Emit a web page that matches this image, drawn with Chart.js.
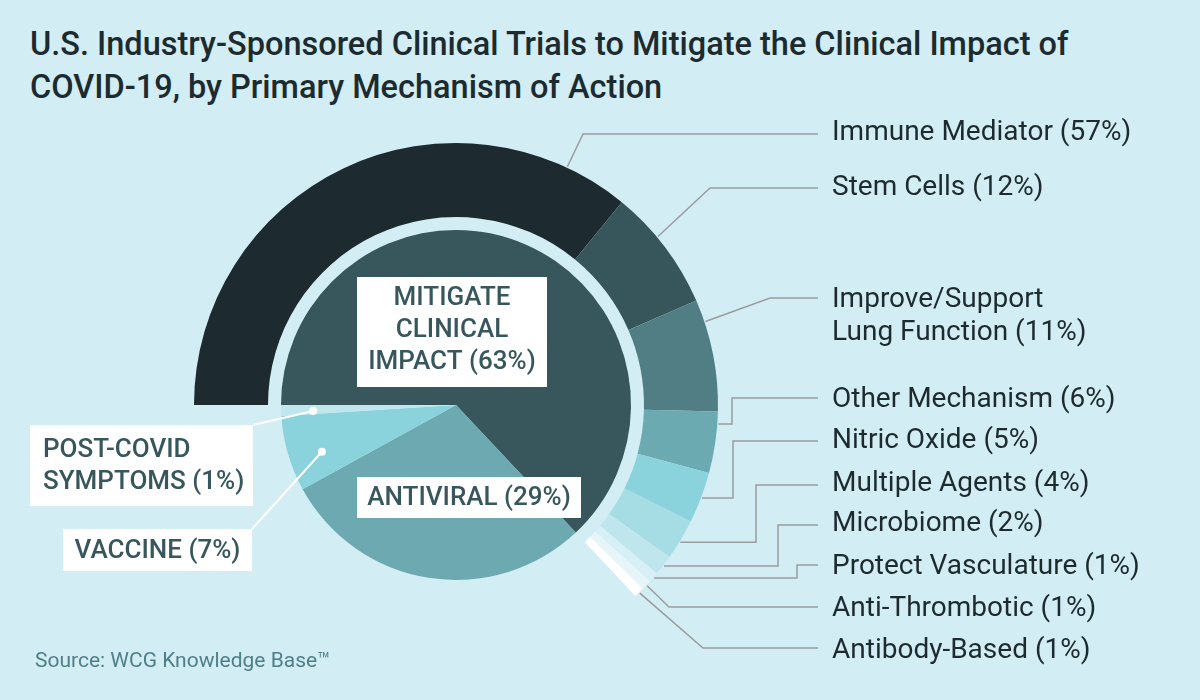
<!DOCTYPE html>
<html><head><meta charset="utf-8">
<script src="https://cdn.jsdelivr.net/npm/chart.js@4.4.1/dist/chart.umd.min.js"></script>
<style>
html,body{margin:0;padding:0;}
body{width:1200px;height:700px;background:#d3edf5;position:relative;overflow:hidden;font-family:Roboto,'Noto Sans',sans-serif;}
#title{position:absolute;left:30px;top:23px;font-size:32.5px;font-weight:500;line-height:43px;color:#1c2b30;white-space:nowrap;}
#source{position:absolute;left:35px;top:648px;font-size:21px;line-height:24px;color:#4f8087;}
canvas{position:absolute;left:0;top:0;}
</style></head><body>
<div id="title">U.S. Industry-Sponsored Clinical Trials to Mitigate the Clinical Impact of<br>COVID-19, by Primary Mechanism of Action</div>
<canvas id="ring" width="1200" height="700"></canvas>
<canvas id="pie" width="1200" height="700"></canvas>
<div id="source">Source: WCG Knowledge Base™</div>
<script>
// ---- data ----
const categories = ['MITIGATE\nCLINICAL\nIMPACT', 'ANTIVIRAL', 'VACCINE', 'POST-COVID\nSYMPTOMS'];
const categoryShares = [63, 29, 7, 1];
const mechanisms = ['Immune Mediator', 'Stem Cells', 'Improve/Support\nLung Function', 'Other Mechanism', 'Nitric Oxide', 'Multiple Agents', 'Microbiome', 'Protect Vasculature', 'Anti-Thrombotic', 'Antibody-Based'];
const mechanismShares = [57, 12, 11, 6, 5, 4, 2, 1, 1, 1];

// ---- styles ----
const categoryColors = ['#37575c', '#6da9b0', '#8bd3dc', '#c0e7ee'];
const mechanismColors = ['#1d2a2f', '#36565b', '#517e85', '#6baab0', '#8bd3dc', '#a6dce3', '#bfe6ec', '#d7eff6', '#e7f5f9', '#ffffff'];
const CENTER_X = 456, CENTER_Y = 405, OUTER_R = 262, RING_INNER_R = 188, PIE_R = 175;
const pad = {left: CENTER_X - OUTER_R, top: CENTER_Y - OUTER_R, right: 1200 - (CENTER_X + OUTER_R), bottom: 700 - (CENTER_Y + OUTER_R)};
const LABEL_X = 832, LINE_END_X = 818;
const mechLabelLayout = [
  {ty: 133, ly: 134, frac: 0.89, route: 'diag', ex: 583},
  {ty: 188, ly: 188, frac: 0.40, route: 'diag', ex: 710},
  {ty: 300, ly: 298, frac: 0.20, route: 'diag', ex: 770},
  {ty: 400, ly: 398, frac: 0.20, route: 'step', ex: 732},
  {ty: 441, ly: 441, frac: 0.50, route: 'step', ex: 733},
  {ty: 484, ly: 485, frac: 0.56, route: 'step', ex: 756},
  {ty: 524, ly: 525, frac: 0.50, route: 'step', ex: 778},
  {ty: 567, ly: 565, frac: 0.50, route: 'step', ex: 797},
  {ty: 609, ly: 607, frac: 0.50, route: 'diag', ex: 669},
  {ty: 651, ly: 648, frac: 0.50, route: 'diag', ex: 703}
];
const catLabelLayout = [
  {box: [357, 277, 190, 110], align: 'center', ty: 298},
  {box: [357, 477, 224, 41], align: 'center', ty: 498},
  {box: [63, 529, 189, 42], align: 'center', ty: 551, leader: {cx: 252, cy: 529, r: 142, frac: 0.38}},
  {box: [30, 425, 223, 81], align: 'left', tx: 43, ty: 450, leader: {cx: 253, cy: 425, r: 143, frac: 0.33}}
];

const remainder = categoryShares.slice(1).reduce((a, b) => a + b, 0);
const ringValues = mechanismShares.map(v => v * categoryShares[0] / 100).concat([remainder]);
const ringColors = mechanismColors.concat(['rgba(0,0,0,0)']);

const ringLabelPlugin = {
  id: 'ringLabels',
  afterDatasetsDraw(chart) {
    const ctx = chart.ctx;
    const meta = chart.getDatasetMeta(0);
    ctx.save();
    mechanisms.forEach((name, i) => {
      const p = meta.data[i].getProps(['x', 'y', 'startAngle', 'endAngle', 'outerRadius'], true);
      const L = mechLabelLayout[i];
      const a = p.startAngle + L.frac * (p.endAngle - p.startAngle);
      const ax = p.x + Math.cos(a) * (p.outerRadius + 1);
      const ay = p.y + Math.sin(a) * (p.outerRadius + 1);
      ctx.beginPath();
      ctx.moveTo(ax, ay);
      if (L.route === 'diag') { ctx.lineTo(L.ex, L.ly); }
      else { ctx.lineTo(L.ex, ay); ctx.lineTo(L.ex, L.ly); }
      ctx.lineTo(LINE_END_X, L.ly);
      ctx.strokeStyle = '#9a9c9d';
      ctx.lineWidth = 1.5;
      ctx.stroke();
      const lines = name.split('\n');
      lines[lines.length - 1] += ' (' + mechanismShares[i] + '%)';
      ctx.font = '28px Roboto';
      ctx.fillStyle = '#1d2b2f';
      ctx.textBaseline = 'middle';
      ctx.textAlign = 'left';
      lines.forEach((t, k) => ctx.fillText(t, LABEL_X, L.ty + k * 33));
    });
    ctx.restore();
  }
};

const pieLabelPlugin = {
  id: 'pieLabels',
  afterDatasetsDraw(chart) {
    const ctx = chart.ctx;
    const meta = chart.getDatasetMeta(0);
    ctx.save();
    categories.forEach((name, i) => {
      const L = catLabelLayout[i];
      if (L.leader) {
        const p = meta.data[i].getProps(['x', 'y', 'startAngle', 'endAngle'], true);
        const a = p.startAngle + L.leader.frac * (p.endAngle - p.startAngle);
        const dx = p.x + Math.cos(a) * L.leader.r;
        const dy = p.y + Math.sin(a) * L.leader.r;
        ctx.beginPath();
        ctx.moveTo(L.leader.cx, L.leader.cy);
        ctx.lineTo(dx, dy);
        ctx.strokeStyle = '#ffffff';
        ctx.lineWidth = 2;
        ctx.stroke();
        ctx.beginPath();
        ctx.arc(dx, dy, 4, 0, Math.PI * 2);
        ctx.fillStyle = '#ffffff';
        ctx.fill();
      }
      const [bx, by, bw, bh] = L.box;
      ctx.fillStyle = '#ffffff';
      ctx.fillRect(bx, by, bw, bh);
      const lines = name.split('\n');
      lines[lines.length - 1] += ' (' + categoryShares[i] + '%)';
      ctx.font = '500 26px Roboto';
      ctx.fillStyle = '#37575c';
      ctx.textBaseline = 'middle';
      ctx.textAlign = L.align;
      const x = L.align === 'center' ? bx + bw / 2 : L.tx;
      lines.forEach((t, k) => ctx.fillText(t, x, L.ty + k * 32));
    });
    ctx.restore();
  }
};

new Chart(document.getElementById('ring'), {
  type: 'doughnut',
  data: {labels: mechanisms.concat(['other']), datasets: [{data: ringValues, backgroundColor: ringColors, borderWidth: 0}]},
  options: {
    responsive: false, animation: false, rotation: -90, radius: OUTER_R, cutout: RING_INNER_R,
    layout: {padding: pad},
    plugins: {legend: {display: false}, tooltip: {enabled: false}}
  },
  plugins: [ringLabelPlugin]
});

new Chart(document.getElementById('pie'), {
  type: 'pie',
  data: {labels: categories, datasets: [{data: categoryShares, backgroundColor: categoryColors, borderWidth: 0}]},
  options: {
    responsive: false, animation: false, rotation: -90, radius: PIE_R,
    layout: {padding: pad},
    plugins: {legend: {display: false}, tooltip: {enabled: false}}
  },
  plugins: [pieLabelPlugin]
});
</script>
</body></html>
